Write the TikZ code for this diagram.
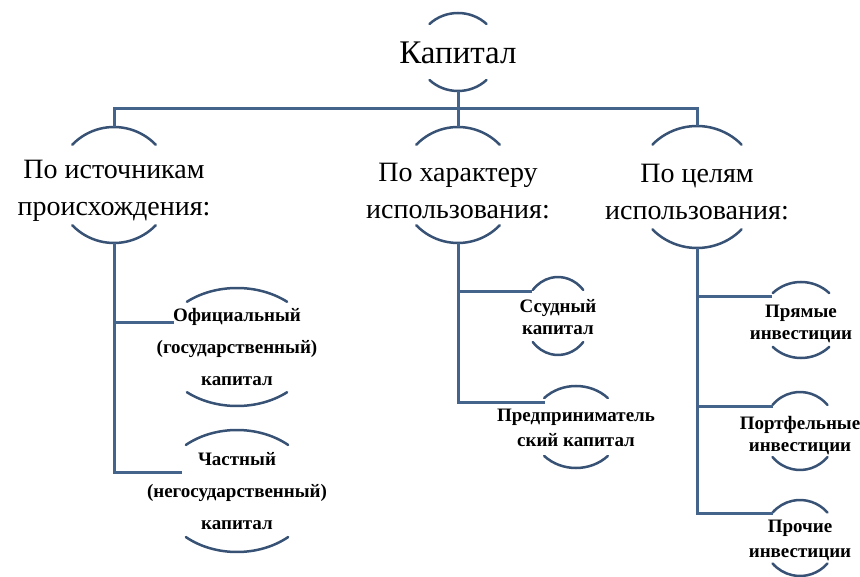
\documentclass[tikz,border=0pt]{standalone}
\usepackage{fontspec}
\setmainfont{Liberation Serif}
\usepackage{xcolor}
\usepackage{tikz}
\usetikzlibrary{positioning}

\definecolor{linkblue}{RGB}{68,100,140}
\definecolor{browblue}{RGB}{55,82,116}

\begin{document}
\begin{tikzpicture}[
  x=1pt, y=1pt,
  root/.style={font=\fontsize{33}{38}\selectfont, inner sep=0pt},
  head/.style={font=\fontsize{28}{37}\selectfont, align=center, inner sep=0pt},
  leaf/.style={font=\bfseries\fontsize{19}{22}\selectfont, align=center, inner sep=0pt},
  link/.style={draw=linkblue, line width=3pt},
  brow/.style={draw=browblue, line width=2.5pt, line cap=round}
]
  \useasboundingbox (0,0) rectangle (860,-577);

  % root and criteria
  \node[root] (kapital) at (458,-53) {Капитал};
  \node[head] (src)  at (114,-191) {По источникам\\происхождения:};
  \node[head] (use)  at (458,-191) {По характеру\\использования:};
  \node[head] (goal) at (697,-192) {По целям\\использования:};

  % kinds of capital
  \node[leaf, font=\bfseries\fontsize{19}{32}\selectfont] (off)  at (237,-347) {Официальный\\(государственный)\\капитал};
  \node[leaf, font=\bfseries\fontsize{19}{32}\selectfont] (priv) at (237,-491) {Частный\\(негосударственный)\\капитал};
  \node[leaf] (loan)   at (558,-317) {Ссудный\\капитал};
  \node[leaf, font=\bfseries\fontsize{19}{25}\selectfont] (entr) at (576,-428) {Предприниматель\\ский капитал};
  \node[leaf] (direct) at (801,-324) {Прямые\\инвестиции};
  \node[leaf] (port)   at (800,-436) {Портфельные\\инвестиции};
  \node[leaf, font=\bfseries\fontsize{19}{25}\selectfont] (other) at (800,-540) {Прочие\\инвестиции};

  % arcs above and below every label (offset \o of the arc centre)
  \foreach \n/\a/\b/\t/\o in {kapital/41/39/46/1, src/58/58/44/6, use/58/58/44/6, goal/62/61/44/5,
      off/78/59/50/0, priv/78/61/49/0, loan/34/39/42/1, entr/45/41/45/1,
      direct/40/38/45/4, port/37/39/42/5, other/37/38/42/2} {
    \draw[brow] (\n.center) ++(0,\o) ++(\t:{\a} and {\b}) arc[start angle=\t, end angle=180-\t, x radius=\a, y radius=\b];
    \draw[brow] (\n.center) ++(0,\o) ++(-\t:{\a} and {\b}) arc[start angle=-\t, end angle=-180+\t, x radius=\a, y radius=\b];
    \path (\n.center) ++(0,\o) ++(0,\b) coordinate (\n-t);
    \path (\n.center) ++(0,\o) ++(0,-\b) coordinate (\n-b);
  }

  % entry points of the branches
  \coordinate (bus) at (0,-109);
  \coordinate (off-in)    at (174,-323);
  \coordinate (priv-in)   at (182,-472);
  \coordinate (loan-in)   at (532,-292);
  \coordinate (entr-in)   at (545,-403);
  \coordinate (direct-in) at (772,-297);
  \coordinate (port-in)   at (773,-407);
  \coordinate (other-in)  at (773,-513);

  \draw[link] (kapital-b) -- (use-t);
  \draw[link] (src-t) -- (src-t |- bus) -- (goal-t |- bus) -- (goal-t);
  \draw[link] (src-b) |- (off-in);
  \draw[link] (src-b) |- (priv-in);
  \draw[link] (use-b) |- (loan-in);
  \draw[link] (use-b) |- (entr-in);
  \draw[link] (goal-b) |- (direct-in);
  \draw[link] (goal-b) |- (port-in);
  \draw[link] (goal-b) |- (other-in);
\end{tikzpicture}
\end{document}
